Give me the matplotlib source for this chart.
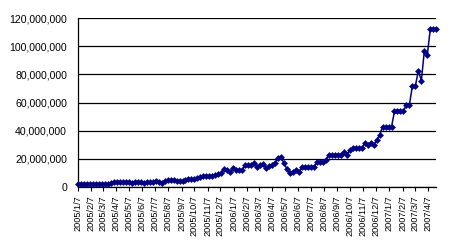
import matplotlib
matplotlib.use("Agg")
import matplotlib.pyplot as plt
import matplotlib.dates as mdates
import pandas as pd

# weekly values (millions)
values_m = [
    2.0, 1.9, 1.9, 2.0, 1.9, 2.0, 1.9, 2.0, 2.0, 2.1,
    2.4, 3.1, 3.5, 3.5, 3.6, 3.5, 3.6, 3.5, 2.7, 3.5,
    3.5, 3.4, 2.6, 3.5, 3.6, 3.6, 4.3, 3.6, 3.0, 4.0,
    5.0, 5.0, 5.1, 4.3, 4.4, 4.5, 4.8, 5.5, 5.6, 5.7,
    6.4, 7.2, 7.6, 7.8, 7.8, 7.8, 8.4, 9.3, 10.2, 12.6,
    12.4, 11.0, 13.2, 12.1, 12.1, 12.2, 15.5, 15.7, 15.7, 16.9,
    14.5, 15.8, 16.4, 13.2, 15.0, 15.5, 16.9, 20.9, 21.0, 16.9,
    12.6, 9.7, 10.9, 12.0, 10.4, 14.3, 14.3, 14.3, 14.3, 14.3,
    17.6, 17.6, 17.8, 19.3, 22.8, 22.8, 22.8, 22.8, 22.8, 24.6,
    22.8, 26.2, 27.5, 27.5, 27.5, 27.5, 31.0, 30.0, 31.1, 29.5,
    33.3, 36.8, 42.7, 42.7, 42.7, 42.7, 53.8, 53.8, 53.8, 53.8,
    58.4, 58.4, 71.9, 71.9, 82.6, 75.5, 96.8, 94.0, 112.3, 112.3,
    112.3,
]
start_date = "2005-01-07"
dates = pd.date_range(start_date, periods=len(values_m), freq="7D")
values = [v * 1e6 for v in values_m]

tick_dates = pd.date_range("2005-01-07", "2007-04-07", freq=pd.DateOffset(months=1))
tick_labels = [f"{d.year}/{d.month}/{d.day}" for d in tick_dates]
y_ticks = [0, 20000000, 40000000, 60000000, 80000000, 100000000, 120000000]
y_labels = [f"{v:,}" for v in y_ticks]

fig = plt.figure(figsize=(4.5, 2.52), dpi=100)
ax = fig.add_axes([78/450, 1-187/252, (436.3-78)/450, (187-18)/252])

navy = "#000080"
ax.plot(dates, values, color=navy, lw=1.1, marker="D", markersize=3.5,
        markeredgewidth=0, clip_on=False, zorder=3)

ax.set_xlim(dates[0], dates[-1])
ax.set_ylim(0, 120000000)
ax.set_yticks(y_ticks)
ax.set_yticklabels(y_labels, fontfamily="Liberation Sans", fontsize=7.6)
ax.set_xticks(tick_dates)
ax.set_xticklabels(tick_labels, rotation=90, fontfamily="Liberation Sans", fontsize=6.6)
ax.tick_params(axis="y", length=0, pad=8)
ax.tick_params(axis="x", length=3, width=0.8, pad=3, direction="out")
ax.grid(axis="y", color="black", lw=0.9)
ax.set_axisbelow(True)
for s in ["top", "right"]:
    ax.spines[s].set_visible(False)
for s in ["left", "bottom"]:
    ax.spines[s].set_color("black")
    ax.spines[s].set_linewidth(0.9)

fig.savefig("out.png", dpi=100)
